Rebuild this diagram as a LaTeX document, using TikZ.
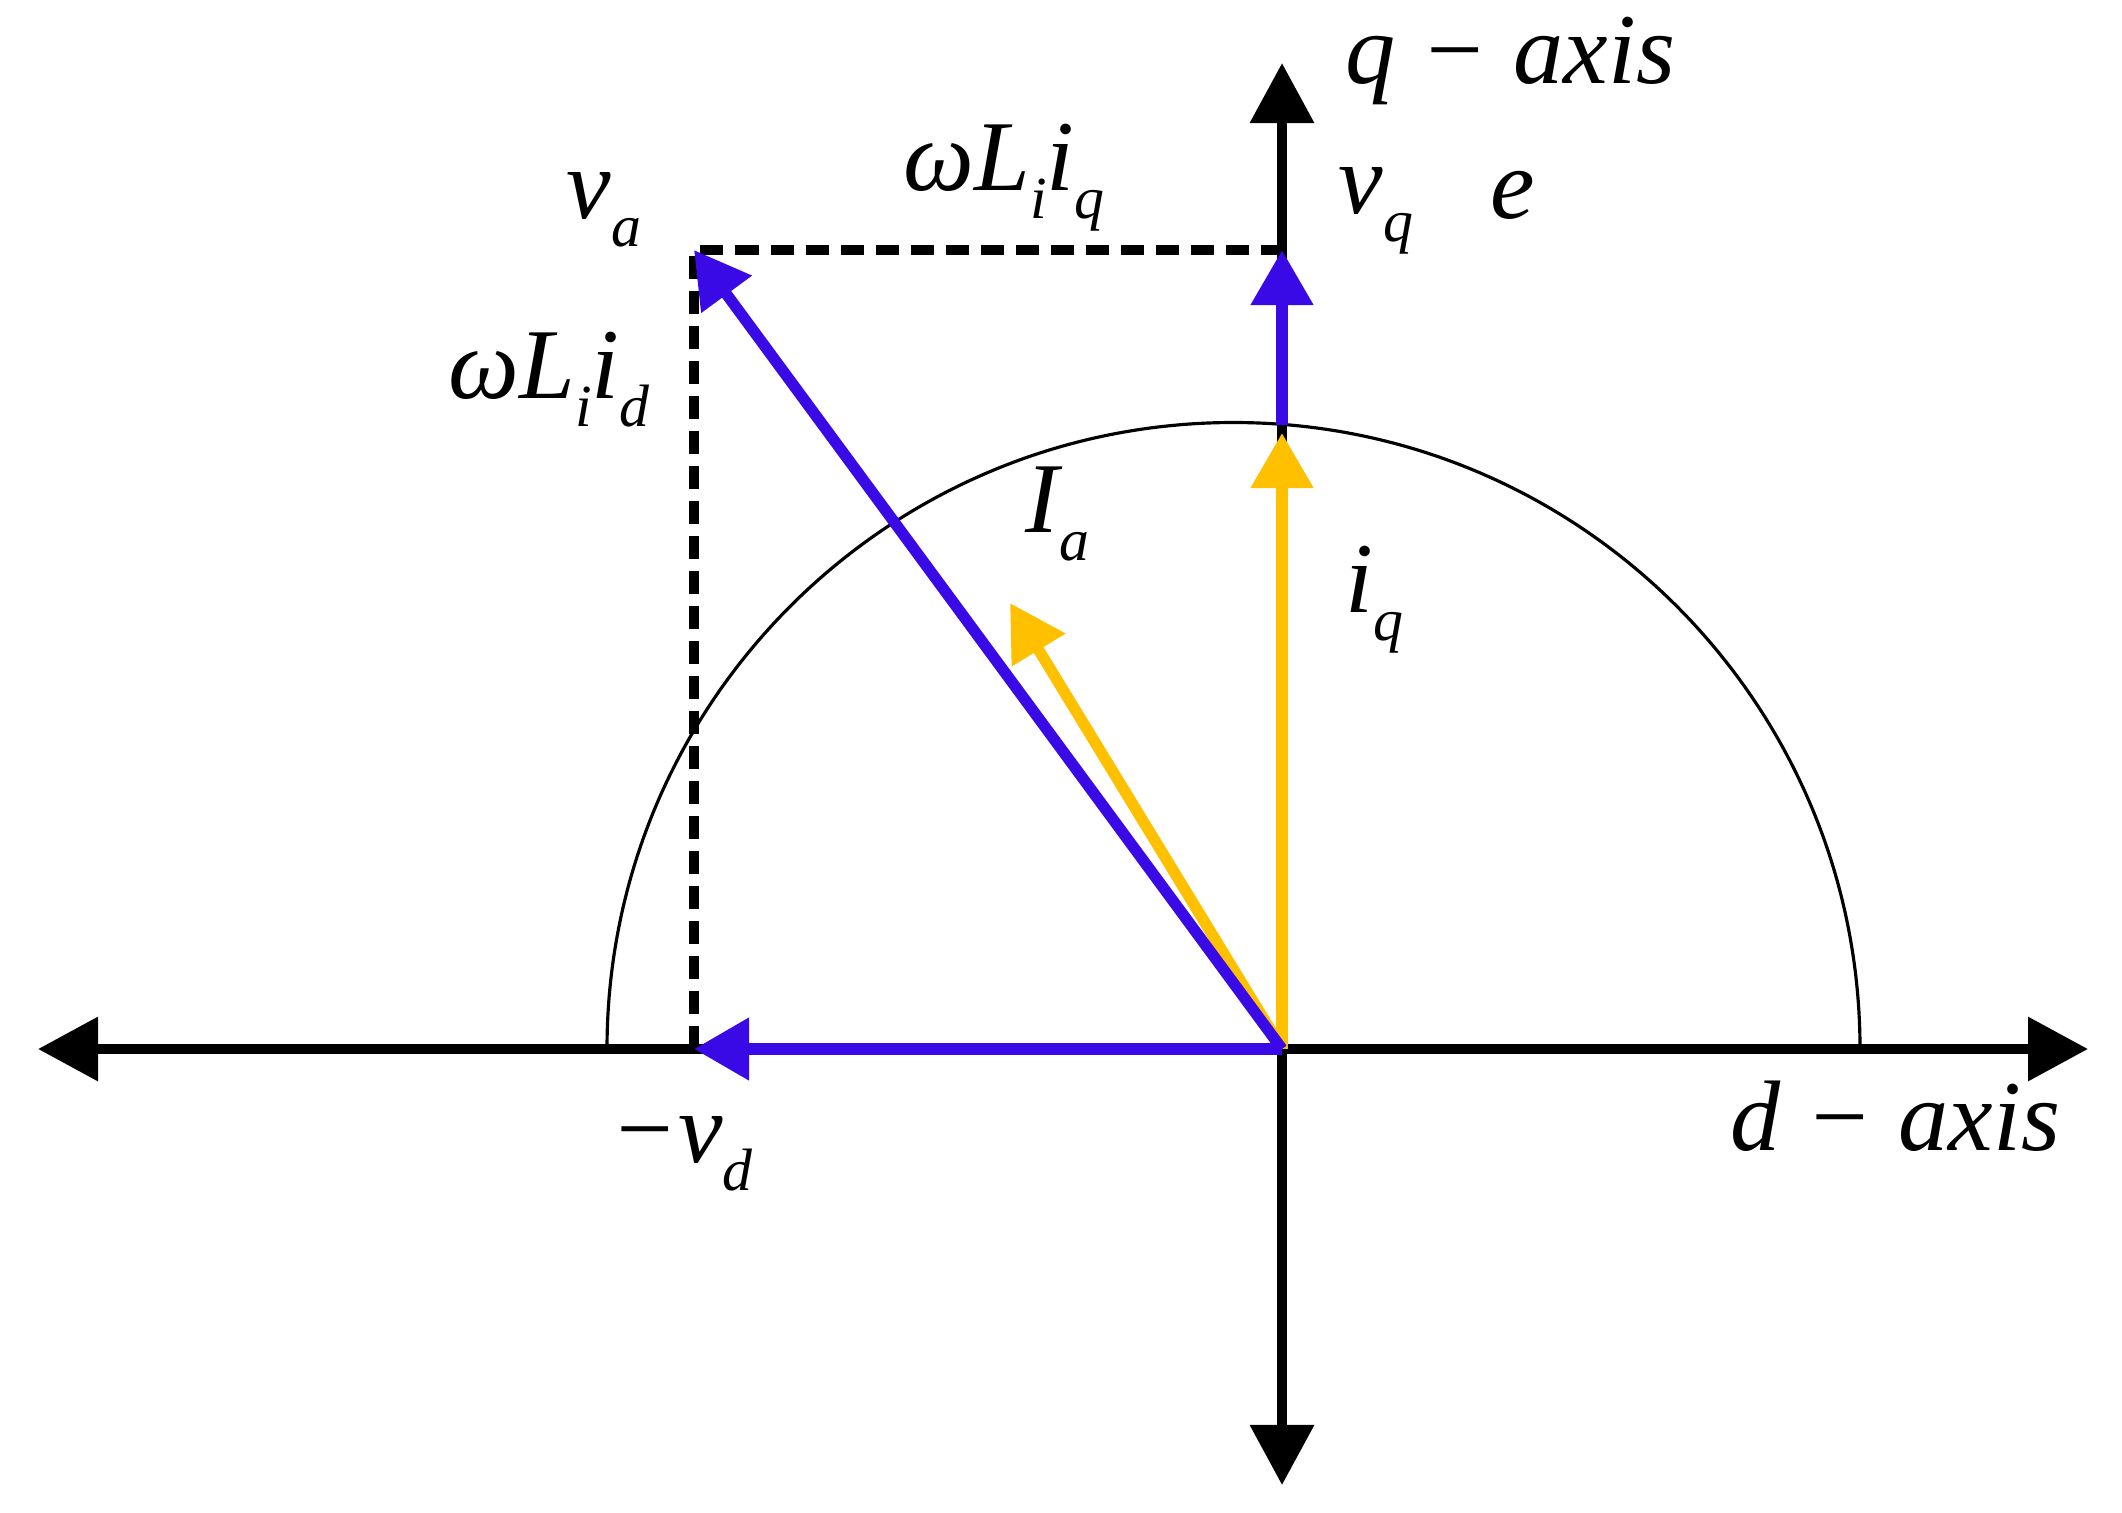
\documentclass[tikz,border=0pt]{standalone}
\usepackage{fontspec}
\setmainfont{Liberation Serif}
\usetikzlibrary{arrows.meta}
\definecolor{vblue}{RGB}{58,10,230}
\definecolor{igold}{RGB}{255,192,0}
\newcommand\sbx[1]{\raisebox{-8pt}{\fontsize{17}{17}\selectfont #1}}
\begin{document}
\begin{tikzpicture}[x=0.01cm,y=-0.01cm,
  axisarrow/.style={line width=2.8pt, -{Triangle[length=6mm,width=6.2mm]}},
  vec/.style={line width=3.2pt, -{Triangle[length=5.5mm,width=6mm]}},
  dashln/.style={line width=2.6pt, dash pattern=on 2.3mm off 1.2mm},
  lab/.style={inner sep=0pt, anchor=base west, font=\fontsize{28.5}{30}\selectfont\itshape}]
\useasboundingbox (0,0) rectangle (2122,1512);
\coordinate (O) at (1282,1049);
\coordinate (Qtop) at (1282,63);
\coordinate (Qbot) at (1282,1485);
\coordinate (Dleft) at (38,1049);
\coordinate (Dright) at (2088,1049);
\coordinate (Va) at (694,250);
\coordinate (Vd) at (694,1049);
\coordinate (Vq) at (1282,250);
\coordinate (Ctop) at (1282,425);
\coordinate (Iq) at (1282,433);
\coordinate (Ia) at (1010,603);
\coordinate (Cl) at (607,1049);
% axes
\draw[axisarrow] (O) -- (Dright);
\draw[axisarrow] (O) -- (Dleft);
\draw[axisarrow] (O) -- (Qtop);
\draw[axisarrow] (O) -- (Qbot);
% semicircle
\draw[line width=0.9pt] (Cl) arc[start angle=180, end angle=360, radius=626.5];
% dashed projections
\draw[dashln] (Vd) -- (Va) -- (Vq);
% vectors
\draw[vec, igold] (O) -- (Iq);
\draw[vec, igold] (O) -- (Ia);
\draw[vec, vblue] (O) -- (Vd);
\draw[vec, vblue] (O) -- (Va);
\draw[vec, vblue] (Ctop) -- (Vq);
% labels
\node[lab] (qaxis) at (1345,83) {q − axis};
\node[lab] (daxis) at (1730,1150) {d − axis};
\node[lab] (vq) at (1338,213) {v\sbx{q}};
\node[lab] (e) at (1490,218) {e};
\node[lab] (va) at (566,218) {v\sbx{a}};
\node[lab] (wLiq) at (903,190) {ωL\sbx{i}i\sbx{q}};
\node[lab] (wLid) at (448,398) {ωL\sbx{i}i\sbx{d}};
\node[lab] (Ial) at (1025,532) {I\sbx{a}};
\node[lab] (iql) at (1345,612) {i\sbx{q}};
\node[lab] (vdl) at (610,1162) {−v\sbx{d}};
\end{tikzpicture}
\end{document}
